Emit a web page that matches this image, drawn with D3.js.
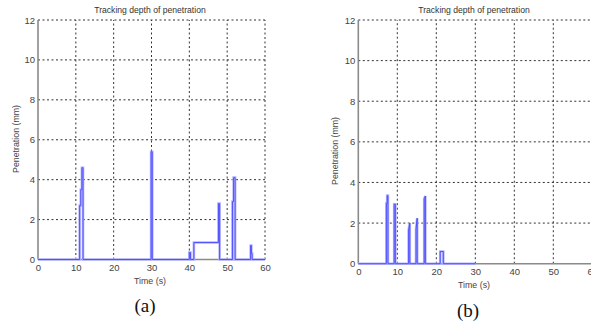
<!DOCTYPE html>
<html>
<head>
<meta charset="utf-8">
<script src="https://cdn.jsdelivr.net/npm/d3@7"></script>
<style>
  html, body { margin: 0; padding: 0; background: #fff; }
  svg { display: block; }
</style>
</head>
<body>
<svg id="chart" width="591" height="327"></svg>
<script>
// Axis ticks shared by both panels
const timeTicks = [0, 10, 20, 30, 40, 50, 60];
const depthTicks = [0, 2, 4, 6, 8, 10, 12];

// Panel (a): penetration depth trace, [time s, depth mm]
const timeA  = [0, 11.0, 11.0, 11.3, 11.3, 11.6, 11.6, 11.9, 11.9, 29.9, 29.9, 30.2, 30.2,
                40.0, 40.0, 40.3, 40.3, 41.2, 41.2, 47.7, 47.7, 48.0, 48.0,
                51.4, 51.4, 51.7, 51.7, 52.1, 52.1, 56.2, 56.2, 56.4, 56.4, 56.6, 56.6, 60];
const depthA = [0, 0, 2.7, 2.7, 3.5, 3.5, 4.6, 4.6, 0, 0, 5.4, 5.4, 0,
                0, 0.35, 0.35, 0, 0, 0.85, 0.85, 2.8, 2.8, 0,
                0, 2.9, 2.9, 4.1, 4.1, 0, 0, 0.7, 0.7, 0.3, 0.3, 0, 0];

// Panel (b): penetration depth trace, [time s, depth mm]
const timeB  = [0, 7.2, 7.2, 7.4, 7.4, 7.6, 7.6, 9.2, 9.2, 9.5, 9.5,
                12.9, 12.9, 13.2, 13.2, 14.8, 14.8, 15.1, 15.1,
                16.9, 16.9, 17.2, 17.2, 21.0, 21.0, 21.8, 21.8, 30];
const depthB = [0, 0, 2.97, 2.97, 3.35, 3.35, 0, 0, 2.93, 2.93, 0,
                0, 1.66, 2.0, 0, 0, 1.7, 2.24, 0,
                0, 3.2, 3.33, 0, 0, 0.6, 0.6, 0, 0];

const titleText = "Tracking depth of penetration";
const xTitle = "Time (s)";
const yTitle = "Penetration (mm)";
const sans = "'Liberation Sans', Arial, sans-serif";
const serif = "'Liberation Serif', 'Times New Roman', serif";

const svg = d3.select("#chart");

function panel(cfg) {
  const x = d3.scaleLinear().domain([0, 60]).range([cfg.x0, cfg.x1]);
  const y = d3.scaleLinear().domain([0, 12]).range([cfg.y0, cfg.y1]);
  const g = svg.append("g");

  // dotted grid
  g.selectAll("line.vgrid").data(timeTicks.slice(1)).join("line")
    .attr("x1", d => x(d)).attr("x2", d => x(d))
    .attr("y1", y(0)).attr("y2", y(12))
    .attr("stroke", "#333").attr("stroke-width", 1)
    .attr("stroke-dasharray", "2,2.5");
  g.selectAll("line.hgrid").data(depthTicks.slice(1)).join("line")
    .attr("x1", x(0)).attr("x2", x(60))
    .attr("y1", d => y(d)).attr("y2", d => y(d))
    .attr("stroke", "#333").attr("stroke-width", 1)
    .attr("stroke-dasharray", "2,2.5");

  // solid axis lines
  g.append("line").attr("x1", x(0)).attr("x2", x(0)).attr("y1", y(0)).attr("y2", y(12))
    .attr("stroke", "#8a8a8a").attr("stroke-width", 1.6);
  g.append("line").attr("x1", x(0)).attr("x2", x(60)).attr("y1", y(0)).attr("y2", y(0))
    .attr("stroke", "#8a8a8a").attr("stroke-width", 1.6);

  // tick labels via d3 axes (domain and tick lines hidden)
  const xAxis = g.append("g").attr("transform", `translate(0,${y(0)})`)
    .call(d3.axisBottom(x).tickValues(timeTicks).tickSize(0).tickPadding(cfg.xPad));
  const yAxis = g.append("g").attr("transform", `translate(${x(0)},0)`)
    .call(d3.axisLeft(y).tickValues(depthTicks).tickSize(0).tickPadding(3));
  [xAxis, yAxis].forEach(a => {
    a.select(".domain").remove();
    a.selectAll("text").attr("fill", "#444")
      .style("font-family", sans).style("font-size", "9.5px");
  });

  // trace: light wide underlay plus thin blue line
  const pts = cfg.t.map((t, i) => [t, cfg.v[i]]);
  const line = d3.line().x(d => x(d[0])).y(d => y(d[1]));
  g.append("path").attr("d", line(pts)).attr("fill", "none")
    .attr("stroke", "#b4b4ff").attr("stroke-width", 2.6);
  g.append("path").attr("d", line(pts)).attr("fill", "none")
    .attr("stroke", "#4646ff").attr("stroke-width", 0.9);

  // titles
  g.append("text").attr("x", cfg.titleX).attr("y", 13).attr("text-anchor", "middle")
    .style("font-family", sans).style("font-size", "8.6px").attr("fill", "#333").text(titleText);
  g.append("text").attr("x", cfg.titleX).attr("y", cfg.xTitleY).attr("text-anchor", "middle")
    .style("font-family", sans).style("font-size", "8.8px").attr("fill", "#444").text(xTitle);
  g.append("text").attr("transform", `translate(${cfg.yTitleX},${cfg.yTitleY}) rotate(-90)`)
    .attr("text-anchor", "middle").style("font-family", sans).style("font-size", "8.8px")
    .attr("fill", "#444").text(yTitle);

  // panel caption
  g.append("text").attr("x", cfg.capX).attr("y", cfg.capY).attr("text-anchor", "middle")
    .style("font-family", serif).style("font-size", "19px").attr("fill", "#111").text(cfg.caption);
}

panel({ x0: 38, x1: 265, y0: 259.5, y1: 20, t: timeA, v: depthA, xPad: 5,
        titleX: 150, xTitleY: 284, yTitleX: 19, yTitleY: 139,
        caption: "(a)", capX: 145, capY: 312 });
panel({ x0: 358.3, x1: 592.3, y0: 263.7, y1: 20, t: timeB, v: depthB, xPad: 5,
        titleX: 474, xTitleY: 288, yTitleX: 338, yTitleY: 151,
        caption: "(b)", capX: 468, capY: 317 });
</script>
</body>
</html>
